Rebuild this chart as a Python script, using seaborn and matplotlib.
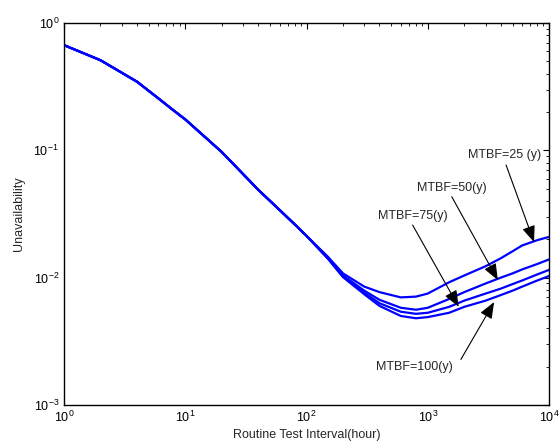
import matplotlib
matplotlib.use("Agg")
import matplotlib.pyplot as plt
import seaborn as sns
import pandas as pd

# ---- data ----
interval_h = [1, 2, 4, 6, 8, 10, 20, 40, 60, 80, 100, 150, 200, 300, 400, 600,
              800, 1000, 1500, 2000, 3000, 4000, 5000, 6000, 8000, 10000]
common = [0.67, 0.51, 0.346, 0.256, 0.206, 0.175, 0.097, 0.049, 0.034, 0.0262, 0.0213]
mtbf25 = common + [0.0146, 0.0108, 0.0085, 0.0077, 0.0070, 0.0071, 0.0075, 0.0092,
                   0.0104, 0.0123, 0.0142, 0.0161, 0.0179, 0.0197, 0.0209]
mtbf50 = common + [0.0143, 0.0104, 0.0079, 0.0067, 0.0058, 0.0056, 0.0058, 0.0068,
                   0.0077, 0.0090, 0.0100, 0.0108, 0.0116, 0.0128, 0.0139]
mtbf75 = common + [0.0142, 0.0102, 0.0076, 0.0063, 0.0054, 0.0052, 0.0053, 0.0059,
                   0.0066, 0.0075, 0.0082, 0.0089, 0.0095, 0.0106, 0.0115]
mtbf100 = common + [0.0141, 0.0101, 0.0074, 0.0060, 0.0050, 0.0048, 0.0049, 0.0053,
                    0.0059, 0.0066, 0.0073, 0.0079, 0.0085, 0.0095, 0.0103]
series_names = ["MTBF=25 (y)", "MTBF=50(y)", "MTBF=75(y)", "MTBF=100(y)"]

# annotation positions (text centre, arrow tail, arrow head) in data coords
text_pos = [(4266, 0.0918), (1578, 0.0510), (750, 0.0306), (782, 0.00200)]
arrow_tail = [(4426, 0.0767), (1578, 0.0432), (750, 0.0259), (1876, 0.00228)]
arrow_head = [(7530, 0.0190), (3786, 0.00957), (1799, 0.0059), (3526, 0.00643)]

rows = []
for name, vals in zip(series_names, [mtbf25, mtbf50, mtbf75, mtbf100]):
    for xv, yv in zip(interval_h, vals):
        rows.append({"x": xv, "y": yv, "series": name})
df = pd.DataFrame(rows)

sns.set_style("white")
plt.rcParams["font.family"] = ["Liberation Sans", "DejaVu Sans"]
plt.rcParams["mathtext.default"] = "regular"
plt.rcParams["axes.unicode_minus"] = False

fig = plt.figure(figsize=(5.59, 4.48), dpi=100)
ax = fig.add_axes([64 / 559, 1 - 405 / 448, 485 / 559, 382 / 448])

sns.lineplot(data=df, x="x", y="y", hue="series",
             palette=["#0000ff"] * 4, linewidth=1.6, legend=False, ax=ax,
             estimator=None, sort=True)

ax.set_xscale("log")
ax.set_yscale("log")
ax.set_xlim(1, 1e4)
ax.set_ylim(1e-3, 1)

for sp in ax.spines.values():
    sp.set_visible(True)
    sp.set_color("black")
    sp.set_linewidth(1.0)

ax.tick_params(which="both", direction="in", top=True, right=True,
               colors="black", labelsize=9)
ax.tick_params(which="major", length=4, width=0.8)
ax.tick_params(which="minor", length=2.5, width=0.6)

ax.set_xlabel("Routine Test Interval(hour)", fontsize=9, labelpad=3)
ax.set_ylabel("Unavailability", fontsize=9, labelpad=6)

for name, tp, tail, head in zip(series_names, text_pos, arrow_tail, arrow_head):
    ax.annotate("", xy=head, xytext=tail,
                arrowprops=dict(arrowstyle="-|>,head_length=1.0,head_width=0.4",
                                color="black", lw=0.8, shrinkA=0, shrinkB=0))
    ax.text(tp[0], tp[1], name, ha="center", va="center", fontsize=9)

fig.savefig("out.png", dpi=100)
